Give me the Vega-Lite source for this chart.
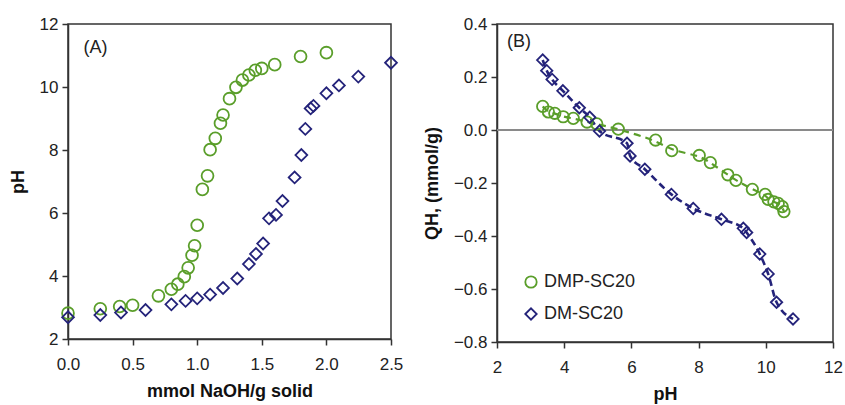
{
  "$schema": "https://vega.github.io/schema/vega-lite/v6.json",
  "background": "white",
  "padding": {"left": 8, "top": 14, "right": 0, "bottom": 0},
  "spacing": 18,
  "config": {
    "view": {"stroke": "#333333", "strokeWidth": 1.5},
    "scale": {"nice": false},
    "axis": {
      "grid": false,
      "labelFlush": false,
      "labelFont": "Liberation Sans",
      "labelFontSize": 17,
      "labelColor": "#222222",
      "titleFont": "Liberation Sans",
      "titleFontSize": 18,
      "titleFontWeight": "bold",
      "titleColor": "#111111",
      "domainColor": "#333333",
      "domainWidth": 1.5,
      "tickColor": "#333333",
      "tickWidth": 1.5,
      "tickSize": 6
    },
    "axisX": {"labelPadding": 11, "titlePadding": 10},
    "axisY": {"labelPadding": 4, "titlePadding": 12},
    "legend": {
      "labelFont": "Liberation Sans",
      "labelFontSize": 18,
      "labelColor": "#222222",
      "symbolSize": 130,
      "symbolStrokeWidth": 1.8,
      "rowPadding": 12,
      "padding": 0
    }
  },
  "datasets": {
    "a": [
      {"sample": "DMP-SC20", "naoh": 0.0, "ph": 2.82},
      {"sample": "DMP-SC20", "naoh": 0.25, "ph": 2.96},
      {"sample": "DMP-SC20", "naoh": 0.40, "ph": 3.03},
      {"sample": "DMP-SC20", "naoh": 0.50, "ph": 3.07},
      {"sample": "DMP-SC20", "naoh": 0.70, "ph": 3.37},
      {"sample": "DMP-SC20", "naoh": 0.80, "ph": 3.58},
      {"sample": "DMP-SC20", "naoh": 0.85, "ph": 3.74},
      {"sample": "DMP-SC20", "naoh": 0.90, "ph": 3.98},
      {"sample": "DMP-SC20", "naoh": 0.93, "ph": 4.26},
      {"sample": "DMP-SC20", "naoh": 0.96, "ph": 4.66},
      {"sample": "DMP-SC20", "naoh": 0.98, "ph": 4.96},
      {"sample": "DMP-SC20", "naoh": 1.00, "ph": 5.61},
      {"sample": "DMP-SC20", "naoh": 1.04, "ph": 6.75},
      {"sample": "DMP-SC20", "naoh": 1.08, "ph": 7.18},
      {"sample": "DMP-SC20", "naoh": 1.10, "ph": 8.01},
      {"sample": "DMP-SC20", "naoh": 1.14, "ph": 8.37},
      {"sample": "DMP-SC20", "naoh": 1.18, "ph": 8.85},
      {"sample": "DMP-SC20", "naoh": 1.20, "ph": 9.11},
      {"sample": "DMP-SC20", "naoh": 1.25, "ph": 9.63},
      {"sample": "DMP-SC20", "naoh": 1.30, "ph": 9.99},
      {"sample": "DMP-SC20", "naoh": 1.35, "ph": 10.22},
      {"sample": "DMP-SC20", "naoh": 1.40, "ph": 10.38},
      {"sample": "DMP-SC20", "naoh": 1.45, "ph": 10.53},
      {"sample": "DMP-SC20", "naoh": 1.50, "ph": 10.59},
      {"sample": "DMP-SC20", "naoh": 1.60, "ph": 10.71},
      {"sample": "DMP-SC20", "naoh": 1.80, "ph": 10.97},
      {"sample": "DMP-SC20", "naoh": 2.00, "ph": 11.09},
      {"sample": "DM-SC20", "naoh": 0.0, "ph": 2.69},
      {"sample": "DM-SC20", "naoh": 0.25, "ph": 2.76},
      {"sample": "DM-SC20", "naoh": 0.41, "ph": 2.84},
      {"sample": "DM-SC20", "naoh": 0.60, "ph": 2.92},
      {"sample": "DM-SC20", "naoh": 0.80, "ph": 3.10},
      {"sample": "DM-SC20", "naoh": 0.91, "ph": 3.21},
      {"sample": "DM-SC20", "naoh": 1.00, "ph": 3.29},
      {"sample": "DM-SC20", "naoh": 1.10, "ph": 3.41},
      {"sample": "DM-SC20", "naoh": 1.20, "ph": 3.62},
      {"sample": "DM-SC20", "naoh": 1.31, "ph": 3.92},
      {"sample": "DM-SC20", "naoh": 1.40, "ph": 4.38},
      {"sample": "DM-SC20", "naoh": 1.455, "ph": 4.70},
      {"sample": "DM-SC20", "naoh": 1.51, "ph": 5.03},
      {"sample": "DM-SC20", "naoh": 1.556, "ph": 5.83},
      {"sample": "DM-SC20", "naoh": 1.61, "ph": 5.94},
      {"sample": "DM-SC20", "naoh": 1.66, "ph": 6.38},
      {"sample": "DM-SC20", "naoh": 1.754, "ph": 7.13},
      {"sample": "DM-SC20", "naoh": 1.806, "ph": 7.84},
      {"sample": "DM-SC20", "naoh": 1.837, "ph": 8.67},
      {"sample": "DM-SC20", "naoh": 1.878, "ph": 9.32},
      {"sample": "DM-SC20", "naoh": 1.90, "ph": 9.40},
      {"sample": "DM-SC20", "naoh": 2.00, "ph": 9.80},
      {"sample": "DM-SC20", "naoh": 2.097, "ph": 10.05},
      {"sample": "DM-SC20", "naoh": 2.247, "ph": 10.33},
      {"sample": "DM-SC20", "naoh": 2.50, "ph": 10.77}
    ],
    "b": [
      {"sample": "DMP-SC20", "ph": 3.36, "q": 0.089},
      {"sample": "DMP-SC20", "ph": 3.53, "q": 0.068},
      {"sample": "DMP-SC20", "ph": 3.72, "q": 0.063},
      {"sample": "DMP-SC20", "ph": 3.97, "q": 0.050},
      {"sample": "DMP-SC20", "ph": 4.27, "q": 0.044},
      {"sample": "DMP-SC20", "ph": 4.68, "q": 0.030},
      {"sample": "DMP-SC20", "ph": 4.97, "q": 0.023},
      {"sample": "DMP-SC20", "ph": 5.61, "q": 0.003},
      {"sample": "DMP-SC20", "ph": 6.72, "q": -0.038},
      {"sample": "DMP-SC20", "ph": 7.20, "q": -0.078},
      {"sample": "DMP-SC20", "ph": 8.02, "q": -0.096},
      {"sample": "DMP-SC20", "ph": 8.35, "q": -0.123},
      {"sample": "DMP-SC20", "ph": 8.87, "q": -0.169},
      {"sample": "DMP-SC20", "ph": 9.11, "q": -0.190},
      {"sample": "DMP-SC20", "ph": 9.60, "q": -0.224},
      {"sample": "DMP-SC20", "ph": 9.98, "q": -0.243},
      {"sample": "DMP-SC20", "ph": 10.07, "q": -0.262},
      {"sample": "DMP-SC20", "ph": 10.24, "q": -0.271},
      {"sample": "DMP-SC20", "ph": 10.37, "q": -0.277},
      {"sample": "DMP-SC20", "ph": 10.49, "q": -0.289},
      {"sample": "DMP-SC20", "ph": 10.54, "q": -0.308},
      {"sample": "DM-SC20", "ph": 3.36, "q": 0.264},
      {"sample": "DM-SC20", "ph": 3.48, "q": 0.224},
      {"sample": "DM-SC20", "ph": 3.64, "q": 0.191},
      {"sample": "DM-SC20", "ph": 3.96, "q": 0.148},
      {"sample": "DM-SC20", "ph": 4.45, "q": 0.084},
      {"sample": "DM-SC20", "ph": 4.76, "q": 0.048},
      {"sample": "DM-SC20", "ph": 5.05, "q": -0.004},
      {"sample": "DM-SC20", "ph": 5.87, "q": -0.050},
      {"sample": "DM-SC20", "ph": 5.96, "q": -0.098},
      {"sample": "DM-SC20", "ph": 6.40, "q": -0.148},
      {"sample": "DM-SC20", "ph": 7.19, "q": -0.243},
      {"sample": "DM-SC20", "ph": 7.84, "q": -0.296},
      {"sample": "DM-SC20", "ph": 8.68, "q": -0.337},
      {"sample": "DM-SC20", "ph": 9.33, "q": -0.371},
      {"sample": "DM-SC20", "ph": 9.43, "q": -0.387},
      {"sample": "DM-SC20", "ph": 9.82, "q": -0.468},
      {"sample": "DM-SC20", "ph": 10.07, "q": -0.543},
      {"sample": "DM-SC20", "ph": 10.32, "q": -0.650},
      {"sample": "DM-SC20", "ph": 10.81, "q": -0.713}
    ]
  },
  "resolve": {"scale": {"color": "independent", "shape": "independent"}},
  "hconcat": [
    {
      "width": 323,
      "height": 315,
      "layer": [
        {
          "data": {"name": "a"},
          "mark": {"type": "point", "filled": false, "strokeWidth": 1.8, "size": 140, "opacity": 1},
          "encoding": {
            "x": {"field": "naoh", "type": "quantitative", "scale": {"domain": [0, 2.5], "nice": false}, "axis": {"values": [0, 0.5, 1, 1.5, 2, 2.5], "format": ".1f", "title": "mmol NaOH/g solid"}},
            "y": {"field": "ph", "type": "quantitative", "scale": {"domain": [2, 12], "nice": false}, "axis": {"values": [2, 4, 6, 8, 10, 12], "title": "pH"}},
            "color": {"field": "sample", "type": "nominal", "scale": {"domain": ["DMP-SC20", "DM-SC20"], "range": ["#5a9e2a", "#24237a"]}, "legend": null},
            "shape": {"field": "sample", "type": "nominal", "scale": {"domain": ["DMP-SC20", "DM-SC20"], "range": ["circle", "diamond"]}, "legend": null}
          }
        },
        {
          "data": {"values": [{"x": 0.12, "y": 11.24, "t": "(A)"}]},
          "mark": {"type": "text", "align": "left", "baseline": "middle", "font": "Liberation Sans", "fontSize": 18, "color": "#222222"},
          "encoding": {
            "x": {"field": "x", "type": "quantitative"},
            "y": {"field": "y", "type": "quantitative"},
            "text": {"field": "t"}
          }
        }
      ]
    },
    {
      "width": 336,
      "height": 318,
      "layer": [
        {
          "data": {"values": [{"y": 0}]},
          "mark": {"type": "rule", "color": "#8a8a8a", "strokeWidth": 2},
          "encoding": {"y": {"field": "y", "type": "quantitative"}}
        },
        {
          "data": {"name": "b"},
          "transform": [{"filter": "datum.sample === 'DMP-SC20'"}],
          "mark": {"type": "line", "color": "#5a9e2a", "strokeWidth": 2.2, "strokeDash": [7, 5], "interpolate": "basis"},
          "encoding": {
            "x": {"field": "ph", "type": "quantitative"},
            "y": {"field": "q", "type": "quantitative"}
          }
        },
        {
          "data": {"name": "b"},
          "transform": [{"filter": "datum.sample === 'DM-SC20'"}],
          "mark": {"type": "line", "color": "#24237a", "strokeWidth": 2.6, "strokeDash": [7, 4], "interpolate": "monotone"},
          "encoding": {
            "x": {"field": "ph", "type": "quantitative"},
            "y": {"field": "q", "type": "quantitative"}
          }
        },
        {
          "data": {"name": "b"},
          "mark": {"type": "point", "filled": false, "strokeWidth": 1.8, "size": 130, "opacity": 1},
          "encoding": {
            "x": {"field": "ph", "type": "quantitative", "scale": {"domain": [2, 12], "nice": false}, "axis": {"values": [2, 4, 6, 8, 10, 12], "title": "pH"}},
            "y": {"field": "q", "type": "quantitative", "scale": {"domain": [-0.8, 0.4], "nice": false}, "axis": {"values": [-0.8, -0.6, -0.4, -0.2, 0, 0.2, 0.4], "format": ".1f", "title": "QH, (mmol/g)"}},
            "color": {"field": "sample", "type": "nominal", "scale": {"domain": ["DMP-SC20", "DM-SC20"], "range": ["#5a9e2a", "#24237a"]}, "legend": {"title": null, "orient": "none", "legendX": 25, "legendY": 249}},
            "shape": {"field": "sample", "type": "nominal", "scale": {"domain": ["DMP-SC20", "DM-SC20"], "range": ["circle", "diamond"]}, "legend": {"title": null, "orient": "none", "legendX": 25, "legendY": 249}}
          }
        },
        {
          "data": {"values": [{"x": 2.3, "y": 0.332, "t": "(B)"}]},
          "mark": {"type": "text", "align": "left", "baseline": "middle", "font": "Liberation Sans", "fontSize": 18, "color": "#222222"},
          "encoding": {
            "x": {"field": "x", "type": "quantitative"},
            "y": {"field": "y", "type": "quantitative"},
            "text": {"field": "t"}
          }
        }
      ]
    }
  ]
}
